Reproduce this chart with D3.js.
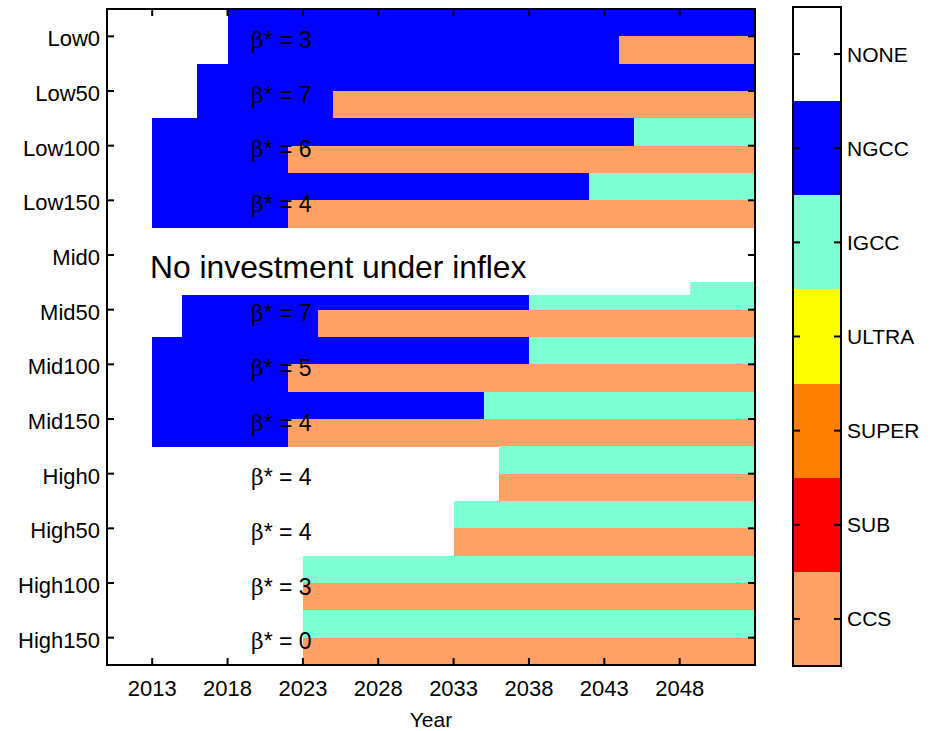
<!DOCTYPE html>
<html>
<head>
<meta charset="utf-8">
<script src="https://cdn.jsdelivr.net/npm/d3@7"></script>
<style>
  body { margin: 0; background: #fff; }
  text { font-family: "Liberation Sans", Arial, sans-serif; fill: #000; }
</style>
</head>
<body>
<div id="chart"></div>
<script>
const scenarios = ['Low0','Low50','Low100','Low150','Mid0','Mid50','Mid100','Mid150',
                   'High0','High50','High100','High150'];
const techs = ['NONE','NGCC','IGCC','ULTRA','SUPER','SUB','CCS'];
const techColors = ['#ffffff','#0000ff','#7fffd4','#ffff00','#ff8000','#ff0000','#ffa066'];
const yearTicks = [2013,2018,2023,2028,2033,2038,2043,2048];
const yearStart = 2010, yearEnd = 2053;

// technology switches for each scenario: [year, tech]
const firstUnit = [
  [[2010,'NONE'],[2018,'NGCC']],
  [[2010,'NONE'],[2016,'NGCC']],
  [[2010,'NONE'],[2013,'NGCC'],[2045,'IGCC']],
  [[2010,'NONE'],[2013,'NGCC'],[2042,'IGCC']],
  [[2010,'NONE']],
  [[2010,'NONE'],[2015,'NGCC'],[2038,'IGCC']],
  [[2010,'NONE'],[2013,'NGCC'],[2038,'IGCC']],
  [[2010,'NONE'],[2013,'NGCC'],[2035,'IGCC']],
  [[2010,'NONE'],[2036,'IGCC']],
  [[2010,'NONE'],[2033,'IGCC']],
  [[2010,'NONE'],[2023,'IGCC']],
  [[2010,'NONE'],[2023,'IGCC']]
];
const secondUnit = [
  [[2010,'NONE'],[2018,'NGCC'],[2044,'CCS']],
  [[2010,'NONE'],[2016,'NGCC'],[2025,'CCS']],
  [[2010,'NONE'],[2013,'NGCC'],[2022,'CCS']],
  [[2010,'NONE'],[2013,'NGCC'],[2022,'CCS']],
  [[2010,'NONE']],
  [[2010,'NONE'],[2015,'NGCC'],[2024,'CCS']],
  [[2010,'NONE'],[2013,'NGCC'],[2022,'CCS']],
  [[2010,'NONE'],[2013,'NGCC'],[2022,'CCS']],
  [[2010,'NONE'],[2036,'CCS']],
  [[2010,'NONE'],[2033,'CCS']],
  [[2010,'NONE'],[2023,'CCS']],
  [[2010,'NONE'],[2023,'CCS']]
];
const betaStar = [3,7,6,4,null,7,5,4,4,4,3,0];
const noInvestLabel = 'No investment under inflex';

const width = 934, height = 731;
const plot = { left: 107, right: 755, top: 9, bottom: 665 };
const cbar = { left: 793, right: 841, top: 7, bottom: 666 };

const svg = d3.select('#chart').append('svg')
  .attr('width', width).attr('height', height);

const x = d3.scaleLinear().domain([yearStart, yearEnd]).range([plot.left, plot.right]);
const y = d3.scaleBand().domain(scenarios).range([plot.top, plot.bottom]);
const color = d3.scaleOrdinal().domain(techs).range(techColors);

// flatten segments into rectangles
const cells = [];
scenarios.forEach((s, i) => {
  [firstUnit[i], secondUnit[i]].forEach((segs, half) => {
    segs.forEach((seg, k) => {
      const end = k < segs.length - 1 ? segs[k + 1][0] : yearEnd;
      cells.push({ scen: s, half, from: seg[0], to: end, tech: seg[1] });
    });
  });
});

const hb = y.bandwidth() / 2;
svg.append('g').attr('shape-rendering', 'crispEdges')
  .selectAll('rect')
  .data(cells.filter(d => d.tech !== 'NONE'))
  .join('rect')
    .attr('x', d => x(d.from))
    .attr('width', d => x(d.to) - x(d.from))
    .attr('y', d => y(d.scen) + d.half * hb)
    .attr('height', hb + 0.5)
    .attr('fill', d => color(d.tech));

// beta labels
const lab = svg.append('g');
scenarios.forEach((s, i) => {
  if (betaStar[i] === null) return;
  const t = lab.append('text')
    .attr('x', x(2019.55))
    .attr('y', y(s) + hb + 11.5)
    .attr('font-size', 23);
  t.append('tspan').attr('font-family', 'DejaVu Serif').attr('font-size', 22).text('β');
  t.append('tspan').text('* = ' + betaStar[i]);
});

// no investment annotation with its white box
svg.append('rect')
  .attr('x', x(2012.2)).attr('width', x(2048.7) - x(2012.2))
  .attr('y', y('Mid0') + 2).attr('height', y('Mid50') + 12.7 - y('Mid0') - 2)
  .attr('fill', '#fff');
svg.append('text')
  .attr('x', 150).attr('y', y('Mid0') + hb + 22.5)
  .attr('font-size', 31.8)
  .text(noInvestLabel);

// axes box
const ax = svg.append('g').attr('stroke', '#000').attr('stroke-width', 2);
ax.append('rect')
  .attr('x', plot.left).attr('y', plot.top)
  .attr('width', plot.right - plot.left).attr('height', plot.bottom - plot.top)
  .attr('fill', 'none');
const tk = 7;
yearTicks.forEach(v => {
  ax.append('line').attr('x1', x(v)).attr('x2', x(v)).attr('y1', plot.bottom).attr('y2', plot.bottom - tk);
  ax.append('line').attr('x1', x(v)).attr('x2', x(v)).attr('y1', plot.top).attr('y2', plot.top + tk);
});
scenarios.forEach(s => {
  const yy = y(s) + hb;
  ax.append('line').attr('x1', plot.left).attr('x2', plot.left + tk).attr('y1', yy).attr('y2', yy);
  ax.append('line').attr('x1', plot.right).attr('x2', plot.right - tk).attr('y1', yy).attr('y2', yy);
});

svg.append('g').selectAll('text')
  .data(yearTicks)
  .join('text')
    .attr('x', d => x(d)).attr('y', plot.bottom + 31)
    .attr('text-anchor', 'middle').attr('font-size', 22)
    .text(d => d);

svg.append('g').selectAll('text')
  .data(scenarios)
  .join('text')
    .attr('x', plot.left - 7).attr('y', d => y(d) + hb)
    .attr('dy', '0.45em')
    .attr('text-anchor', 'end').attr('font-size', 22)
    .text(d => d);

svg.append('text')
  .attr('x', (plot.left + plot.right) / 2).attr('y', 727)
  .attr('text-anchor', 'middle').attr('font-size', 21)
  .text('Year');

// colorbar
const cy = d3.scaleBand().domain(techs).range([cbar.top, cbar.bottom]);
const cb = svg.append('g');
cb.selectAll('rect.seg')
  .data(techs)
  .join('rect')
    .attr('class', 'seg')
    .attr('shape-rendering', 'crispEdges')
    .attr('x', cbar.left).attr('width', cbar.right - cbar.left)
    .attr('y', d => cy(d)).attr('height', cy.bandwidth() + 0.5)
    .attr('fill', d => color(d));
cb.append('rect')
  .attr('x', cbar.left).attr('y', cbar.top)
  .attr('width', cbar.right - cbar.left).attr('height', cbar.bottom - cbar.top)
  .attr('fill', 'none').attr('stroke', '#000').attr('stroke-width', 2);
techs.forEach(t => {
  const yy = cy(t) + cy.bandwidth() / 2;
  cb.append('line').attr('x1', cbar.left).attr('x2', cbar.left + tk).attr('y1', yy).attr('y2', yy)
    .attr('stroke', '#000').attr('stroke-width', 2);
  cb.append('line').attr('x1', cbar.right).attr('x2', cbar.right - tk).attr('y1', yy).attr('y2', yy)
    .attr('stroke', '#000').attr('stroke-width', 2);
  cb.append('text')
    .attr('x', cbar.right + 6).attr('y', yy).attr('dy', '0.36em')
    .attr('font-size', 21)
    .text(t);
});
</script>
</body>
</html>
